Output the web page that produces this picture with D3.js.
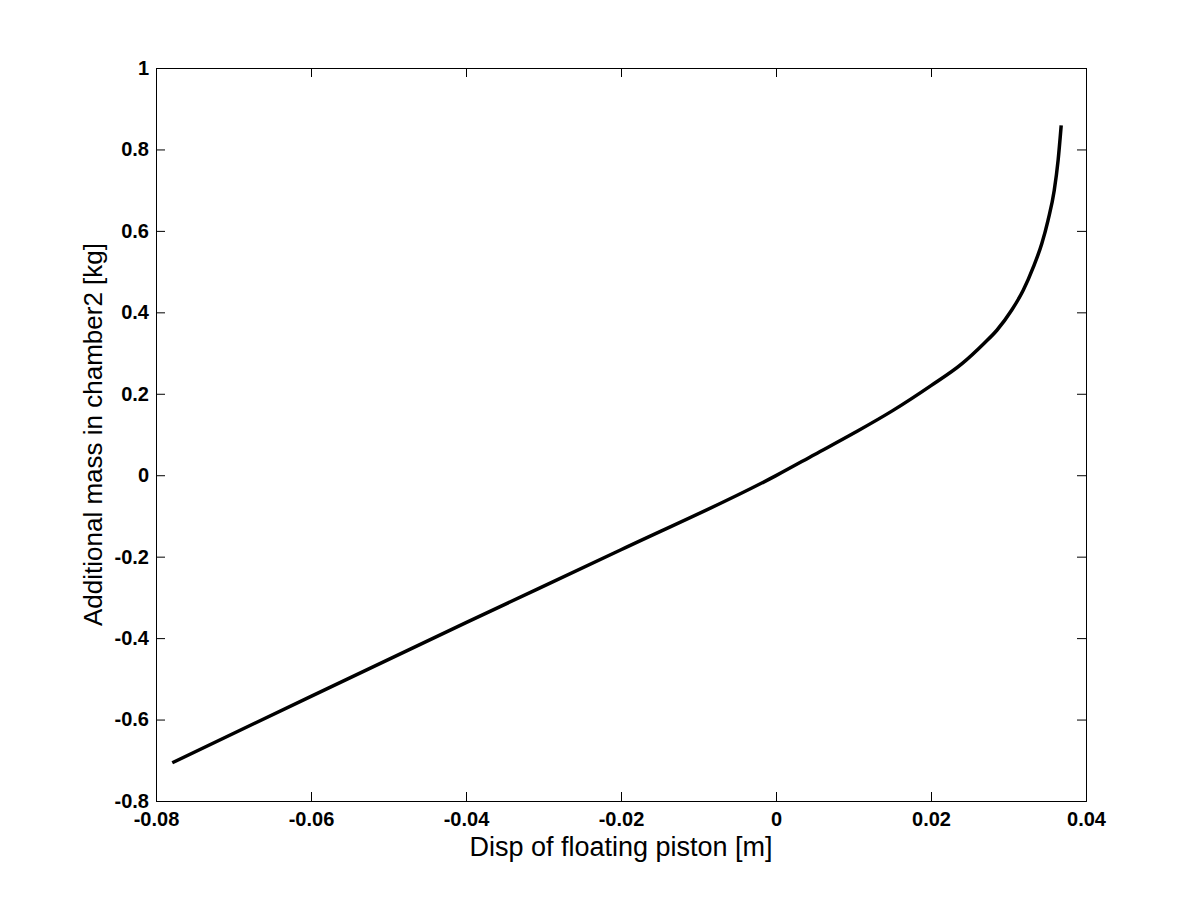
<!DOCTYPE html>
<html>
<head>
<meta charset="utf-8">
<script src="https://cdn.jsdelivr.net/npm/d3@7"></script>
<style>
  body { margin: 0; background: #fff; }
  svg { display: block; font-family: "Liberation Sans", Arial, sans-serif; }
</style>
</head>
<body>
<svg id="chart" width="1200" height="900"></svg>
<script>
// piston displacement [m] vs additional mass [kg]
const dispValues = [-0.0779, -0.06, -0.04, -0.02, 0, 0.005, 0.01, 0.015, 0.02, 0.024,
  0.0268, 0.0285, 0.0304, 0.0319, 0.0332, 0.0343, 0.0351, 0.0359, 0.0364, 0.0368];
const massValues = [-0.706, -0.543, -0.362, -0.183, -0.001, 0.051, 0.103, 0.158, 0.22, 0.274,
  0.323, 0.356, 0.405, 0.454, 0.511, 0.569, 0.626, 0.699, 0.773, 0.859];
const xTicks = [-0.08, -0.06, -0.04, -0.02, 0, 0.02, 0.04];
const yTicks = [-0.8, -0.6, -0.4, -0.2, 0, 0.2, 0.4, 0.6, 0.8, 1];

const svg = d3.select("#chart");
const pLeft = 156, pRight = 1086, pTop = 68, pBottom = 801;

const x = d3.scaleLinear().domain([-0.08, 0.04]).range([pLeft, pRight]);
const y = d3.scaleLinear().domain([-0.8, 1]).range([pBottom, pTop]);
const fmt = (d) => String(+d.toFixed(2));

// ticks pointing inward on all four sides
const axes = [
  d3.axisBottom(x).tickValues(xTicks).tickSize(-9).tickFormat(fmt),
  d3.axisTop(x).tickValues(xTicks).tickSize(-9).tickFormat(""),
  d3.axisLeft(y).tickValues(yTicks).tickSize(-9).tickFormat(fmt),
  d3.axisRight(y).tickValues(yTicks).tickSize(-9).tickFormat(""),
];
const shifts = [`0,${pBottom}`, `0,${pTop}`, `${pLeft},0`, `${pRight},0`];

axes.forEach((ax, i) => {
  const g = svg.append("g").attr("transform", `translate(${shifts[i]})`).call(ax);
  g.select(".domain").attr("stroke", "#000").attr("stroke-width", 1);
  g.selectAll(".tick line").attr("stroke", "#000").attr("stroke-width", 1);
  g.selectAll(".tick text")
    .attr("fill", "#000")
    .style("font-size", "20px")
    .style("font-weight", "bold");
  if (i === 0) g.selectAll(".tick text").attr("y", 11);
  if (i === 2) g.selectAll(".tick text").attr("x", -7);
});

const pts = dispValues.map((d, i) => [d, massValues[i]]);
const line = d3.line()
  .x((d) => x(d[0]))
  .y((d) => y(d[1]))
  .curve(d3.curveMonotoneX);

svg.append("path")
  .datum(pts)
  .attr("d", line)
  .attr("fill", "none")
  .attr("stroke", "#000")
  .attr("stroke-width", 3.5)
  .attr("stroke-linejoin", "round");

svg.append("text")
  .attr("x", (pLeft + pRight) / 2)
  .attr("y", 856)
  .attr("text-anchor", "middle")
  .style("font-size", "27px")
  .text("Disp of floating piston [m]");

svg.append("text")
  .attr("transform", `translate(102,${(pTop + pBottom) / 2}) rotate(-90)`)
  .attr("text-anchor", "middle")
  .style("font-size", "26px")
  .text("Additional mass in chamber2 [kg]");
</script>
</body>
</html>
